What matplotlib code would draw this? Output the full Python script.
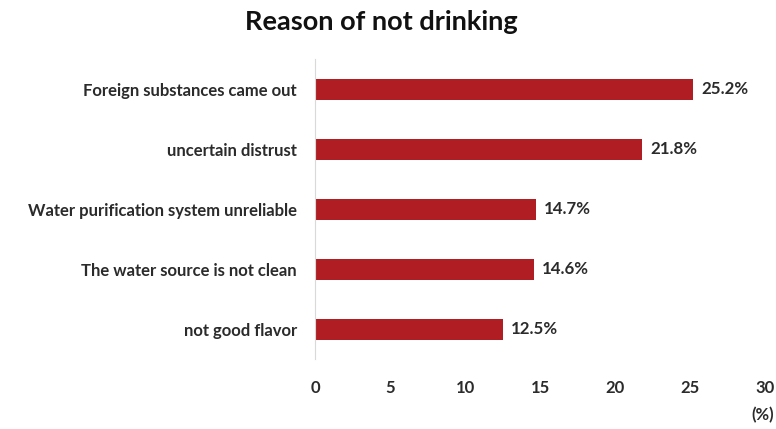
import matplotlib.pyplot as plt

# reasons, top to bottom
reasons = [
    "Foreign substances came out",
    "uncertain distrust",
    "Water purification system unreliable",
    "The water source is not clean",
    "not good flavor",
]
shares = [25.2, 21.8, 14.7, 14.6, 12.5]
x_ticks = [0, 5, 10, 15, 20, 25, 30]

plt.rcParams['font.family'] = ['Lato', 'DejaVu Sans']

fig = plt.figure(figsize=(7.76, 4.29), dpi=100)
ax = fig.add_axes([0.406, 0.163, 0.580, 0.699])

pos = list(range(len(reasons)))[::-1]
ax.barh(pos, shares, height=0.35, color='#B01E24')

for p, v in zip(pos, shares):
    ax.text(v + 0.55, p, f"{v:.1f}%", va='center', ha='left',
            fontsize=12.2, fontweight='bold', color='#2B2B2B')

ax.set_xlim(0, 30)
ax.set_ylim(-0.5, len(reasons) - 0.5)
ax.set_xticks(x_ticks)
ax.set_yticks(pos)
ax.set_yticklabels(reasons)

for lbl in ax.get_xticklabels() + ax.get_yticklabels():
    lbl.set_fontweight('bold')
    lbl.set_fontsize(12)
    lbl.set_color('#2B2B2B')

ax.tick_params(axis='both', length=0)
ax.tick_params(axis='x', pad=15)
ax.tick_params(axis='y', pad=13)

for side in ['top', 'right', 'bottom']:
    ax.spines[side].set_visible(False)
ax.spines['left'].set_color('#D9D9D9')

fig.text(0.491, 0.948, "Reason of not drinking", ha='center', va='center',
         fontsize=19.5, fontweight='bold', color='#111111')
fig.text(0.997, 0.033, "(%)", ha='right', va='center',
         fontsize=12, fontweight='bold', color='#2B2B2B')

fig.savefig('out.png', dpi=100)
